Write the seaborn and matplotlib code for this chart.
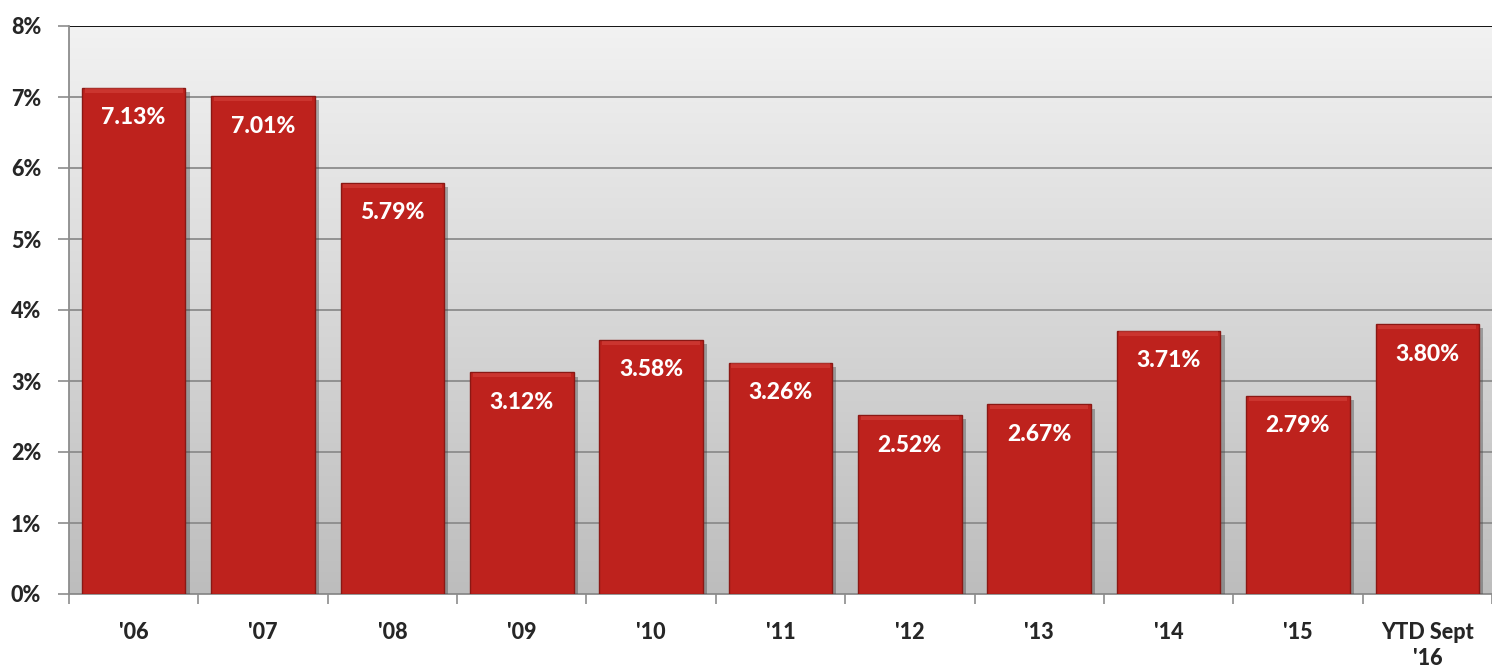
import numpy as np
import pandas as pd
import matplotlib
matplotlib.use("Agg")
import matplotlib.pyplot as plt
import matplotlib.patheffects as pe
from matplotlib.ticker import FixedLocator
from matplotlib.colors import LinearSegmentedColormap
import seaborn as sns

categories = ["'06", "'07", "'08", "'09", "'10", "'11", "'12", "'13", "'14", "'15", "YTD Sept\n'16"]
values = [7.13, 7.01, 5.79, 3.12, 3.58, 3.26, 2.52, 2.67, 3.71, 2.79, 3.80]
labels = ["7.13%", "7.01%", "5.79%", "3.12%", "3.58%", "3.26%", "2.52%", "2.67%", "3.71%", "2.79%", "3.80%"]
yticks = [0, 1, 2, 3, 4, 5, 6, 7, 8]
ytick_labels = ["0%", "1%", "2%", "3%", "4%", "5%", "6%", "7%", "8%"]

sns.set_style("white")
plt.rcParams['font.family'] = ['Lato', 'DejaVu Sans']

df = pd.DataFrame({"cat": categories, "val": values})

fig = plt.figure(figsize=(14.92, 6.71), dpi=100)
ax = fig.add_axes([69 / 1492, 77 / 671, 1 - 69 / 1492, (594 - 26) / 671])

# gradient background
grad = np.linspace(0, 1, 256).reshape(-1, 1)
cmap = LinearSegmentedColormap.from_list("bg", ["#bdbdbd", "#f2f2f2"])
ax.imshow(grad, extent=[-0.5, len(categories) - 0.5, 0, 8], origin="lower",
          aspect="auto", cmap=cmap, zorder=0)

sns.barplot(data=df, x="cat", y="val", color="#BE221D", width=0.8, ax=ax,
            saturation=1, edgecolor="#8a1814", linewidth=1.0, zorder=3)

for p in ax.patches:
    p.set_path_effects([pe.SimplePatchShadow(offset=(3, -3), shadow_rgbFace="#444444", alpha=0.4),
                        pe.Normal()])
    x0 = p.get_x()
    w = p.get_width()
    h = p.get_height()
    ax.fill_between([x0 + 0.02, x0 + w - 0.02], h - 0.07, h - 0.01,
                    color="#e0524b", alpha=0.4, zorder=4, linewidth=0)

for i, (v, lab) in enumerate(zip(values, labels)):
    ax.annotate(lab, (i, v), xytext=(0, -14), textcoords="offset points",
                ha="center", va="top", color="white", fontsize=16.5,
                fontweight="black", zorder=5)

ax.set_xlim(-0.5, len(categories) - 0.5)
ax.set_ylim(0, 8)
ax.set_yticks(yticks)
ax.set_yticklabels(ytick_labels, fontsize=15.5, fontweight="black")
ax.set_xticks(range(len(categories)))
ax.set_xticklabels(categories, fontsize=15.5, fontweight="black", linespacing=1.3)
ax.tick_params(axis="x", length=0, pad=20)
ax.tick_params(axis="y", length=8, width=1.2, color="#8c8c8c", pad=12, left=True)
ax.xaxis.set_minor_locator(FixedLocator([i + 0.5 for i in range(-1, len(categories))]))
ax.tick_params(axis="x", which="minor", length=7, width=1.2, color="#8c8c8c", bottom=True)

ax.set_xlabel("")
ax.set_ylabel("")
ax.set_axisbelow(True)
for y in yticks:
    ax.axhline(y, color="#8c8c8c" if y < 8 else "black", linewidth=1.3, zorder=1)

for s in ["top", "right"]:
    ax.spines[s].set_visible(False)
ax.spines["left"].set_color("#8c8c8c")
ax.spines["left"].set_linewidth(1.3)
ax.spines["bottom"].set_color("#8c8c8c")
ax.spines["bottom"].set_linewidth(1.3)

fig.savefig("out.png", dpi=100, facecolor="white")
